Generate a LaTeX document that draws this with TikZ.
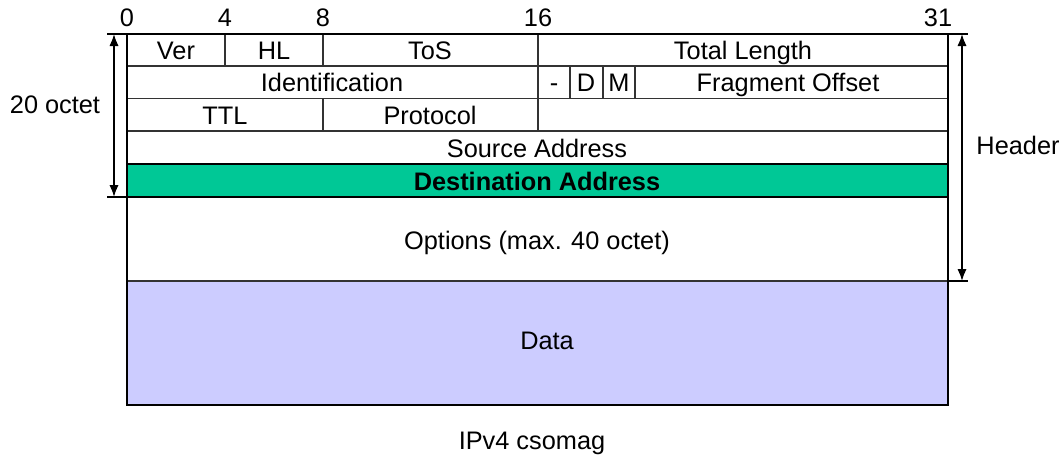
\documentclass[tikz,border=0pt]{standalone}
\usepackage{fontspec}
\setmainfont{Liberation Sans}
\usetikzlibrary{arrows.meta}
\definecolor{destgreen}{RGB}{0,200,150}
\definecolor{datablue}{RGB}{204,204,255}
\begin{document}
\begin{tikzpicture}[x=0.75pt,y=-0.75pt,
  lbl/.style={font=\fontsize{19}{22}\selectfont, inner sep=0pt, text=black, text height=13.6pt, text depth=0pt},
  bold lbl/.style={lbl, font=\fontsize{19}{22}\selectfont\bfseries},
  thin/.style={draw=black!80, line width=1.2pt},
  thick/.style={draw=black, line width=1.6pt},
  dim/.style={draw=black, line width=1.3pt, {Latex[length=9pt,width=7pt]}-{Latex[length=9pt,width=7pt]}},
  tick/.style={draw=black, line width=1.3pt}]
\useasboundingbox (0,0) rectangle (1063,468);
\fill[white] (0,0) rectangle (1063,468);
% fills
\fill[destgreen] (127,164) rectangle (948,197);
\fill[datablue] (127,281) rectangle (948,405);
% inner horizontal lines
\draw[thin] (127,66) -- (948,66);
\draw[thin] (127,98.5) -- (948,98.5);
\draw[thin] (127,131) -- (948,131);
\draw[thin] (127,281) -- (948,281);
% inner vertical lines
\draw[thin] (225,34) -- (225,66);
\draw[thin] (323,34) -- (323,66);
\draw[thin] (538,34) -- (538,131);
\draw[thin] (570,66) -- (570,98.5);
\draw[thin] (603,66) -- (603,98.5);
\draw[thin] (635,66) -- (635,98.5);
\draw[thin] (323,98.5) -- (323,131);
% thick lines
\draw[thick] (127,164) -- (948,164);
\draw[thick] (127,197) -- (948,197);
\draw[thick] (127,34) -- (127,405) -- (948,405) -- (948,34);
% top line and ticks
\coordinate (lt) at (107,34);
\coordinate (lb) at (107,197);
\coordinate (rt) at (968,34);
\coordinate (rb) at (968,281);
\draw[tick] (lt) -- (rt);
\draw[tick] (lb) -- (127,197);
\draw[tick] (948,281) -- (rb);
\coordinate (la1) at (114,34);
\coordinate (la2) at (114,197);
\coordinate (ra1) at (962,34);
\coordinate (ra2) at (962,281);
\draw[dim] (la1) -- (la2);
\draw[dim] (ra1) -- (ra2);
% bit labels
\node[lbl] (b0) at (127,17) {0};
\node[lbl] (b4) at (225,17) {4};
\node[lbl] (b8) at (323,17) {8};
\node[lbl] (b16) at (538,17) {16};
\node[lbl] (b31) at (938,17) {31};
% field labels
\node[lbl] (ver) at (176,50) {Ver};
\node[lbl] (hl) at (274,50) {HL};
\node[lbl] (tos) at (430,50) {ToS};
\node[lbl] (tl) at (743,50) {Total Length};
\node[lbl] (id) at (332,82) {Identification};
\node[lbl] (f0) at (554,82) {-};
\node[lbl] (fd) at (586,82) {D};
\node[lbl] (fm) at (619,82) {M};
\node[lbl] (fo) at (788,82) {Fragment Offset};
\node[lbl] (ttl) at (225,115) {TTL};
\node[lbl] (proto) at (430,115) {Protocol};
\node[lbl] (src) at (537,148) {Source Address};
\node[bold lbl] (dst) at (537,181) {Destination Address};
\node[lbl] (opt) at (537,240) {Options (max. 40 octet)};
\node[lbl] (data) at (547,340) {Data};
\node[lbl] (oct) at (55,104) {20 octet};
\node[lbl] (hdr) at (1018,145) {Header};
\node[lbl] (cap) at (532,440) {IPv4 csomag};
\end{tikzpicture}
\end{document}
